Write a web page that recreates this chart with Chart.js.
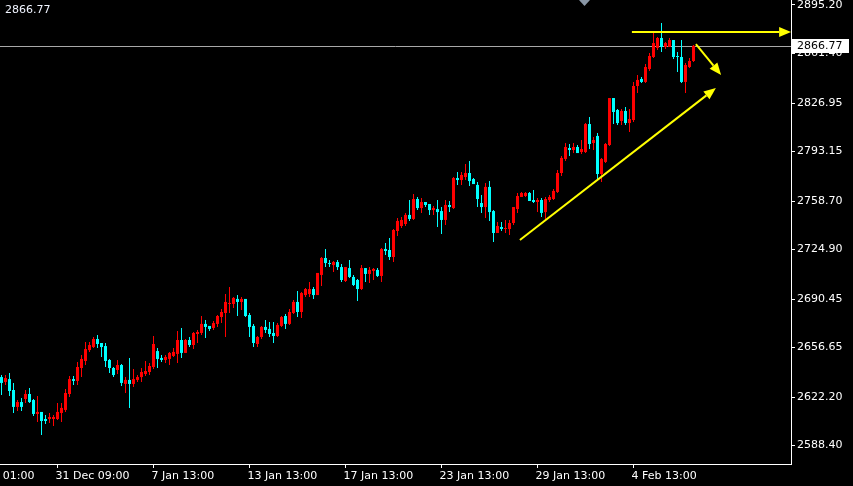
<!DOCTYPE html>
<html>
<head>
<meta charset="utf-8">
<title>XAUUSD H4</title>
<script src="https://cdn.jsdelivr.net/npm/chart.js@4.4.1/dist/chart.umd.min.js"></script>
<style>
html, body { margin: 0; padding: 0; background: #000; }
#wrap { width: 853px; height: 486px; }
</style>
</head>
<body>
<div id="wrap"><canvas id="priceChart" width="853" height="486"></canvas></div>
<script>
// H4 candles
var opens = [
	2636.1, 2632.7, 2634.7, 2627.1, 2615.3, 2618.7, 2620.8, 2624.3, 2620.1, 2610.4,
	2611.8, 2606.9, 2606.9, 2606.9, 2606.9, 2611.1, 2613.2, 2624.3, 2634.7, 2633.4,
	2642.4, 2647.3, 2654.9, 2657.0, 2662.6, 2659.8, 2657.7, 2648.0, 2642.4, 2641.0,
	2644.5, 2631.3, 2634.1, 2631.3, 2634.1, 2636.1, 2638.2, 2639.6, 2643.1, 2654.2,
	2649.4, 2648.0, 2648.7, 2650.8, 2652.2, 2661.9, 2652.9, 2661.9, 2658.4, 2666.1,
	2666.8, 2673.1, 2671.7, 2670.3, 2673.1, 2677.9, 2680.7, 2687.0, 2687.0, 2690.5,
	2688.4, 2690.5, 2679.3, 2671.7, 2659.1, 2664.0, 2671.0, 2669.6, 2666.8, 2664.7,
	2671.7, 2678.6, 2673.1, 2680.7, 2688.4, 2681.4, 2693.2, 2693.9, 2697.4, 2693.2,
	2707.2, 2719.0, 2715.5, 2714.1, 2716.2, 2712.7, 2703.0, 2712.0, 2705.8, 2703.7,
	2697.4, 2712.0, 2707.9, 2710.0, 2710.7, 2706.5, 2725.3, 2724.6, 2719.7, 2737.8,
	2741.3, 2742.7, 2749.0, 2746.2, 2760.1, 2753.8, 2758.0, 2756.6, 2752.4, 2753.1,
	2751.7, 2745.5, 2755.9, 2753.8, 2774.7, 2773.3, 2775.4, 2778.2, 2774.0, 2769.9,
	2757.3, 2754.5, 2768.5, 2751.7, 2736.4, 2740.6, 2739.2, 2739.2, 2743.4, 2753.1,
	2761.5, 2762.2, 2764.3, 2759.4, 2758.0, 2759.4, 2751.0, 2759.4, 2760.1, 2765.0,
	2778.2, 2788.0, 2795.6, 2794.2, 2796.3, 2792.8, 2792.8, 2812.3, 2799.1, 2804.0,
	2777.5, 2785.9, 2797.7, 2830.4, 2822.1, 2814.4, 2821.4, 2813.0, 2815.1, 2838.8,
	2843.7, 2841.6, 2850.6, 2859.0, 2865.3, 2872.2, 2866.0, 2866.0, 2870.8, 2859.7,
	2859.0, 2841.6, 2852.0, 2856.2
];
var highs = [
	2637.5, 2637.5, 2638.9, 2632.0, 2620.1, 2621.5, 2627.1, 2628.5, 2620.8, 2622.9,
	2611.8, 2609.7, 2611.1, 2609.7, 2618.0, 2618.0, 2627.8, 2636.8, 2636.8, 2646.6,
	2651.5, 2660.5, 2660.5, 2664.0, 2665.4, 2659.8, 2659.8, 2648.7, 2643.1, 2648.0,
	2645.2, 2636.1, 2649.4, 2641.7, 2637.5, 2642.4, 2647.3, 2645.9, 2664.7, 2656.3,
	2651.5, 2651.5, 2653.6, 2656.3, 2668.2, 2670.3, 2662.6, 2664.0, 2667.5, 2668.9,
	2678.6, 2675.8, 2671.7, 2675.1, 2679.3, 2683.5, 2693.9, 2698.8, 2691.9, 2693.2,
	2691.9, 2690.5, 2680.7, 2673.1, 2664.7, 2671.7, 2675.8, 2674.4, 2674.4, 2673.7,
	2678.6, 2680.0, 2683.5, 2689.8, 2696.0, 2695.3, 2698.1, 2702.3, 2698.8, 2708.6,
	2719.7, 2725.3, 2717.6, 2716.9, 2717.6, 2714.8, 2712.7, 2717.6, 2707.2, 2704.4,
	2714.1, 2712.0, 2712.7, 2712.0, 2712.0, 2726.0, 2729.5, 2732.9, 2739.2, 2746.9,
	2747.6, 2750.4, 2759.4, 2763.6, 2761.5, 2760.8, 2758.0, 2756.6, 2755.2, 2759.4,
	2754.5, 2759.4, 2758.7, 2775.4, 2778.9, 2778.9, 2784.5, 2786.6, 2774.7, 2771.9,
	2762.9, 2771.2, 2772.6, 2752.4, 2744.1, 2744.1, 2745.5, 2745.5, 2754.5, 2764.3,
	2765.0, 2765.0, 2765.0, 2766.4, 2760.8, 2760.8, 2761.5, 2762.9, 2767.1, 2780.3,
	2790.0, 2799.1, 2798.4, 2799.1, 2797.7, 2801.2, 2813.0, 2817.2, 2803.3, 2806.1,
	2788.7, 2799.1, 2830.4, 2830.4, 2822.8, 2822.8, 2824.2, 2822.8, 2841.6, 2846.5,
	2845.1, 2854.1, 2861.8, 2877.1, 2872.9, 2882.7, 2869.4, 2872.2, 2870.8, 2862.5,
	2870.8, 2854.8, 2858.3, 2867.3
];
var lows = [
	2623.6, 2630.6, 2622.9, 2611.1, 2612.5, 2612.5, 2618.0, 2618.0, 2609.0, 2604.8,
	2595.8, 2603.4, 2604.1, 2602.0, 2606.2, 2604.8, 2611.8, 2622.2, 2630.6, 2630.6,
	2636.1, 2644.5, 2653.6, 2656.3, 2656.3, 2650.1, 2643.1, 2638.9, 2636.1, 2638.2,
	2629.9, 2625.0, 2614.6, 2629.2, 2632.7, 2632.7, 2636.8, 2637.5, 2641.7, 2642.4,
	2646.6, 2645.9, 2644.5, 2650.1, 2645.9, 2649.4, 2652.9, 2657.0, 2655.6, 2659.8,
	2665.4, 2663.3, 2668.2, 2668.9, 2671.0, 2673.7, 2664.0, 2680.7, 2684.2, 2678.6,
	2682.8, 2677.9, 2664.0, 2657.0, 2657.0, 2662.6, 2666.8, 2664.0, 2659.8, 2664.0,
	2671.0, 2669.6, 2672.4, 2680.0, 2677.9, 2677.2, 2691.9, 2691.9, 2690.5, 2693.2,
	2699.5, 2712.7, 2712.7, 2709.3, 2710.7, 2702.3, 2702.3, 2705.1, 2699.5, 2689.1,
	2696.7, 2702.3, 2701.6, 2703.7, 2705.8, 2702.3, 2721.1, 2717.6, 2716.2, 2734.3,
	2739.9, 2741.3, 2744.8, 2745.5, 2752.4, 2750.4, 2754.5, 2749.0, 2749.0, 2740.6,
	2735.7, 2742.0, 2751.0, 2753.1, 2769.9, 2769.9, 2773.3, 2769.2, 2770.5, 2754.5,
	2750.4, 2746.9, 2744.8, 2730.2, 2736.4, 2737.8, 2736.4, 2735.0, 2742.0, 2750.4,
	2761.5, 2761.5, 2758.7, 2757.3, 2751.0, 2747.6, 2745.5, 2758.0, 2759.4, 2764.3,
	2776.1, 2786.6, 2790.0, 2792.1, 2792.1, 2791.4, 2792.1, 2794.9, 2794.2, 2773.3,
	2771.9, 2785.2, 2797.0, 2812.3, 2811.6, 2811.6, 2811.6, 2806.8, 2813.7, 2833.9,
	2840.9, 2840.9, 2849.2, 2858.3, 2863.9, 2862.5, 2864.6, 2866.0, 2857.6, 2848.5,
	2840.9, 2833.9, 2851.3, 2855.5
];
var closes = [
	2632.0, 2635.4, 2626.4, 2615.3, 2618.7, 2615.3, 2624.3, 2618.7, 2610.4, 2611.8,
	2605.5, 2605.5, 2608.3, 2608.3, 2611.8, 2614.6, 2625.0, 2634.7, 2633.4, 2643.1,
	2648.7, 2655.6, 2658.4, 2662.6, 2659.1, 2657.0, 2647.3, 2642.4, 2637.5, 2644.5,
	2632.0, 2634.1, 2631.3, 2634.7, 2636.1, 2639.6, 2640.3, 2643.8, 2659.1, 2648.7,
	2648.0, 2650.1, 2652.9, 2653.6, 2661.9, 2652.9, 2661.9, 2658.4, 2666.8, 2667.5,
	2673.1, 2671.0, 2669.6, 2673.7, 2678.6, 2681.4, 2688.4, 2687.7, 2691.2, 2688.4,
	2690.5, 2678.6, 2671.0, 2659.8, 2664.0, 2671.0, 2668.9, 2666.1, 2664.7, 2672.4,
	2677.9, 2673.1, 2681.4, 2688.4, 2681.4, 2694.6, 2697.4, 2697.4, 2693.2, 2708.6,
	2719.0, 2715.5, 2714.8, 2716.2, 2712.7, 2703.7, 2712.7, 2705.8, 2700.2, 2697.4,
	2712.0, 2707.9, 2710.7, 2711.4, 2706.5, 2725.3, 2723.9, 2719.7, 2738.5, 2744.8,
	2745.5, 2749.0, 2746.2, 2760.1, 2753.8, 2758.0, 2755.9, 2752.4, 2753.8, 2751.0,
	2745.5, 2755.9, 2754.5, 2774.7, 2773.3, 2776.8, 2778.2, 2772.6, 2770.5, 2760.1,
	2754.5, 2768.5, 2751.0, 2736.4, 2741.3, 2739.2, 2739.9, 2743.4, 2754.5, 2762.2,
	2764.3, 2764.3, 2758.7, 2758.0, 2759.4, 2750.4, 2760.1, 2761.5, 2765.7, 2778.2,
	2788.7, 2796.3, 2794.2, 2796.3, 2792.1, 2794.9, 2812.3, 2798.4, 2801.2, 2777.5,
	2788.0, 2798.4, 2830.4, 2820.7, 2813.0, 2821.4, 2813.0, 2815.8, 2838.8, 2843.0,
	2841.6, 2852.0, 2859.7, 2868.7, 2872.2, 2866.0, 2868.7, 2870.8, 2859.0, 2859.0,
	2841.6, 2853.4, 2856.2, 2866.77
];

// time axis: bar index where each label sits
var xTickIndex = [0.8, 14, 38, 62, 86, 110, 134, 158];
var xTickLabels = ["01:00", "31 Dec 09:00", "7 Jan 13:00", "13 Jan 13:00", "17 Jan 13:00", "23 Jan 13:00", "29 Jan 13:00", "4 Feb 13:00"];
var yTickValues = [2895.20, 2861.40, 2826.95, 2793.15, 2758.70, 2724.90, 2690.45, 2656.65, 2622.20, 2588.40];
var bidPrice = 2866.77;

// hand drawn arrows, [bar index, price] -> [bar index, price]
var drawnLines = [
	[[157.6, 2876.4], [197.4, 2876.4]],
	[[173.6, 2868.0], [179.9, 2846.5]],
	[[129.6, 2731.5], [178.6, 2837.4]]
];

var bullColor = "#ff0000";
var bearColor = "#00ffff";
var fontFamily = "'DejaVu Sans', Verdana, sans-serif";

var candleColors = closes.map(function (c, i) { return c >= opens[i] ? bullColor : bearColor; });
var wickData = opens.map(function (o, i) { return { x: i, y: [lows[i], highs[i]] }; });
var bodyData = opens.map(function (o, i) {
	var lo = Math.min(o, closes[i]), hi = Math.max(o, closes[i]);
	if (hi - lo < 0.7) {
		var mid = (hi + lo) / 2;
		lo = mid - 0.35;
		hi = mid + 0.35;
	}
	return { x: i, y: [lo, hi] };
});

var backgroundPlugin = {
	id: "background",
	beforeDraw: function (chart) {
		var ctx = chart.ctx;
		ctx.save();
		ctx.fillStyle = "#000000";
		ctx.fillRect(0, 0, chart.width, chart.height);
		ctx.restore();
	}
};

var bidLinePlugin = {
	id: "bidLine",
	beforeDatasetsDraw: function (chart) {
		var ctx = chart.ctx, area = chart.chartArea;
		var y = Math.round(chart.scales.y.getPixelForValue(bidPrice)) + 0.5;
		ctx.save();
		ctx.strokeStyle = "#a8a8a8";
		ctx.lineWidth = 1;
		ctx.beginPath();
		ctx.moveTo(area.left, y);
		ctx.lineTo(area.right, y);
		ctx.stroke();
		ctx.restore();
	}
};

function drawArrow(ctx, x1, y1, x2, y2) {
	var ang = Math.atan2(y2 - y1, x2 - x1);
	var len = 12, half = 5;
	var bx = x2 - len * Math.cos(ang), by = y2 - len * Math.sin(ang);
	ctx.beginPath();
	ctx.moveTo(x1, y1);
	ctx.lineTo(bx, by);
	ctx.stroke();
	ctx.beginPath();
	ctx.moveTo(x2, y2);
	ctx.lineTo(bx + half * Math.sin(ang), by - half * Math.cos(ang));
	ctx.lineTo(bx - half * Math.sin(ang), by + half * Math.cos(ang));
	ctx.closePath();
	ctx.fill();
}

var overlayPlugin = {
	id: "overlay",
	afterDatasetsDraw: function (chart) {
		var ctx = chart.ctx, xs = chart.scales.x, ys = chart.scales.y;
		ctx.save();
		ctx.strokeStyle = "#ffff00";
		ctx.fillStyle = "#ffff00";
		ctx.lineWidth = 2;
		drawnLines.forEach(function (ln) {
			drawArrow(ctx,
				xs.getPixelForValue(ln[0][0]), ys.getPixelForValue(ln[0][1]),
				xs.getPixelForValue(ln[1][0]), ys.getPixelForValue(ln[1][1]));
		});
		ctx.restore();
	},
	afterDraw: function (chart) {
		var ctx = chart.ctx, area = chart.chartArea;
		var y = chart.scales.y.getPixelForValue(bidPrice);
		ctx.save();
		// bid label on the price axis
		ctx.fillStyle = "#ffffff";
		ctx.fillRect(area.right + 1, Math.round(y) - 7, 57, 14);
		ctx.fillStyle = "#000000";
		ctx.font = "11px " + fontFamily;
		ctx.textBaseline = "middle";
		ctx.textAlign = "left";
		ctx.fillText(bidPrice.toFixed(2), area.right + 6, Math.round(y) + 0.5);
		// price in the top left corner
		ctx.fillStyle = "#f0f4ff";
		ctx.fillText(bidPrice.toFixed(2), 5, 10.5);
		// chart shift marker
		ctx.fillStyle = "#8a97a6";
		ctx.beginPath();
		ctx.moveTo(579, 0);
		ctx.lineTo(590, 0);
		ctx.lineTo(584.5, 6);
		ctx.closePath();
		ctx.fill();
		ctx.restore();
	}
};

var ctx = document.getElementById("priceChart").getContext("2d");
var priceChart = new Chart(ctx, {
	type: "bar",
	data: {
		datasets: [{
			label: "wicks",
			data: wickData,
			backgroundColor: candleColors,
			barThickness: 1,
			grouped: false,
			borderWidth: 0,
			inflateAmount: 0
		}, {
			label: "bodies",
			data: bodyData,
			backgroundColor: candleColors,
			barThickness: 3,
			grouped: false,
			borderWidth: 0,
			inflateAmount: 0
		}]
	},
	options: {
		responsive: false,
		animation: false,
		events: [],
		layout: { padding: 0 },
		plugins: {
			legend: { display: false },
			tooltip: { enabled: false },
			title: { display: false }
		},
		scales: {
			x: {
				type: "linear",
				min: -0.375,
				max: 197.375,
				offset: false,
				grid: {
					display: true,
					offset: false,
					drawOnChartArea: false,
					drawTicks: true,
					tickLength: 4,
					tickColor: function (c) { return c.index === 0 ? "rgba(0,0,0,0)" : "#ffffff"; }
				},
				border: { display: true, color: "#ffffff", width: 1 },
				ticks: {
					autoSkip: false,
					maxRotation: 0,
					minRotation: 0,
					align: "start",
					labelOffset: -2,
					padding: 2,
					color: "#ffffff",
					font: { family: fontFamily, size: 11 },
					callback: function (v, i) { return xTickLabels[i]; }
				},
				afterBuildTicks: function (scale) {
					scale.ticks = xTickIndex.map(function (v) { return { value: v }; });
				},
				afterFit: function (scale) {
					scale.height = 22;
					scale.paddingLeft = 0;
					scale.paddingRight = 0;
				}
			},
			y: {
				position: "right",
				min: 2575.55,
				max: 2898.68,
				grid: {
					display: true,
					drawOnChartArea: false,
					drawTicks: true,
					tickLength: 4,
					tickColor: "#ffffff"
				},
				border: { display: true, color: "#ffffff", width: 1 },
				ticks: {
					padding: 2,
					color: "#ffffff",
					font: { family: fontFamily, size: 11 },
					callback: function (v) { return Number(v).toFixed(2); }
				},
				afterBuildTicks: function (scale) {
					scale.ticks = yTickValues.map(function (v) { return { value: v }; });
				},
				afterFit: function (scale) {
					scale.width = 62;
					scale.paddingTop = 0;
					scale.paddingBottom = 0;
				}
			}
		}
	},
	plugins: [backgroundPlugin, bidLinePlugin, overlayPlugin]
});
</script>
</body>
</html>
